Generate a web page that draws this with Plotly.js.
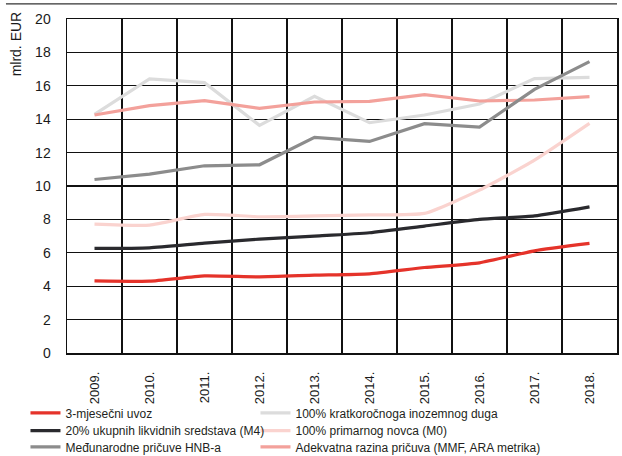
<!DOCTYPE html>
<html>
<head>
<meta charset="utf-8">
<script src="https://cdn.plot.ly/plotly-3.0.1.min.js"></script>
<style>html,body{margin:0;padding:0;background:#fff;}#chart{width:622px;height:456px;}</style>
</head>
<body>
<div id="chart"></div>
<script>
var years = ['2009.','2010.','2011.','2012.','2013.','2014.','2015.','2016.','2017.','2018.'];
var uvoz3m = [4.32, 4.30, 4.62, 4.56, 4.66, 4.74, 5.12, 5.40, 6.12, 6.56];
var m4_20 = [6.26, 6.30, 6.58, 6.82, 7.00, 7.20, 7.60, 8.00, 8.21, 8.75];
var pricuveHNB = [10.39, 10.71, 11.21, 11.27, 12.91, 12.67, 13.73, 13.53, 15.79, 17.45];
var kratkoDug = [14.29, 16.41, 16.19, 13.63, 15.37, 13.79, 14.25, 14.91, 16.43, 16.51];
var m0_100 = [7.72, 7.66, 8.30, 8.16, 8.21, 8.27, 8.36, 9.75, 11.55, 13.75];
var araMMF = [14.25, 14.81, 15.11, 14.65, 15.03, 15.07, 15.47, 15.09, 15.15, 15.35];

var xIdx = years.map(function (_, i) { return i; });
var bounds = years.map(function (_, i) { return i - 0.5; }).concat([years.length - 0.5]);
var FONT = '"Liberation Sans", Arial, Helvetica, sans-serif';

function tr(name, y, color, legend, smooth) {
  var t = {x: xIdx, y: y, name: name, type: 'scatter', mode: 'lines',
    line: {color: color, width: 3.2}, legend: legend, hoverinfo: 'skip'};
  if (smooth) { t.line.shape = 'spline'; t.line.smoothing = 0.5; }
  return t;
}

var data = [
  {x: [xIdx[0]], y: [null], xaxis: 'x2', yaxis: 'y', type: 'scatter', mode: 'lines',
    showlegend: false, hoverinfo: 'skip'},
  tr('100% kratkoročnoga inozemnog duga', kratkoDug, '#dcdcdc', 'legend4', false),
  tr('100% primarnog novca (M0)', m0_100, '#fad3cf', 'legend5', true),
  tr('Adekvatna razina pričuva (MMF, ARA metrika)', araMMF, '#f3a19b', 'legend6', false),
  tr('Međunarodne pričuve HNB-a', pricuveHNB, '#8c8c8c', 'legend3', false),
  tr('20% ukupnih likvidnih sredstava (M4)', m4_20, '#2a2a2e', 'legend2', true),
  tr('3-mjesečni uvoz', uvoz3m, '#e5332a', 'legend', true)
];

function leg(x, y) {
  return {x: x, xanchor: 'left', y: y, yanchor: 'top', orientation: 'v',
    font: {family: FONT, size: 12, color: '#231f20'}, bgcolor: 'rgba(0,0,0,0)',
    borderwidth: 0, itemclick: false};
}
var colX = [-0.0755, 0.3427];
var rowY = [-0.1357, -0.1888, -0.2376];

var layout = {
  width: 622, height: 456,
  margin: {l: 67, r: 5, t: 19, b: 103, autoexpand: false},
  paper_bgcolor: '#fff', plot_bgcolor: '#fff',
  font: {family: FONT, size: 13, color: '#1a1a1a'},
  showlegend: true,
  xaxis: {
    range: [-0.5, years.length - 0.5], tickvals: xIdx, ticktext: years, showgrid: false,
    showline: true, linecolor: '#111', linewidth: 1.5, mirror: true,
    ticks: '', tickangle: -90, ticklabelstandoff: 12,
    tickfont: {family: FONT, size: 13, color: '#1a1a1a'}, zeroline: false, fixedrange: true
  },
  xaxis2: {
    overlaying: 'x', matches: 'x', tickvals: bounds, showticklabels: false, ticks: '',
    showgrid: true, gridcolor: '#111', gridwidth: 1.5, zeroline: false, showline: false
  },
  yaxis: {
    range: [0, 20], dtick: 2, tick0: 0, showgrid: true, gridcolor: '#111', gridwidth: 1.3,
    showline: true, linecolor: '#111', linewidth: 1.5, mirror: true, zeroline: false,
    ticks: '', ticklabelstandoff: 12,
    tickfont: {family: FONT, size: 14, color: '#1a1a1a'}, fixedrange: true
  },
  legend: leg(colX[0], rowY[0]),
  legend2: leg(colX[0], rowY[1]),
  legend3: leg(colX[0], rowY[2]),
  legend4: leg(colX[1], rowY[0]),
  legend5: leg(colX[1], rowY[1]),
  legend6: leg(colX[1], rowY[2]),
  shapes: [{type: 'line', xref: 'paper', yref: 'paper', x0: -0.111, x1: 1.0, y0: 1.045, y1: 1.045,
    line: {color: '#333', width: 1.2}}],
  annotations: [{text: 'mlrd. EUR', xref: 'paper', yref: 'paper', x: -0.093, y: 0.9266,
    xanchor: 'center', yanchor: 'middle', textangle: -90, showarrow: false,
    font: {family: FONT, size: 14, color: '#1a1a1a'}}]
};

Plotly.newPlot('chart', data, layout, {displayModeBar: false, staticPlot: true});
</script>
</body>
</html>
